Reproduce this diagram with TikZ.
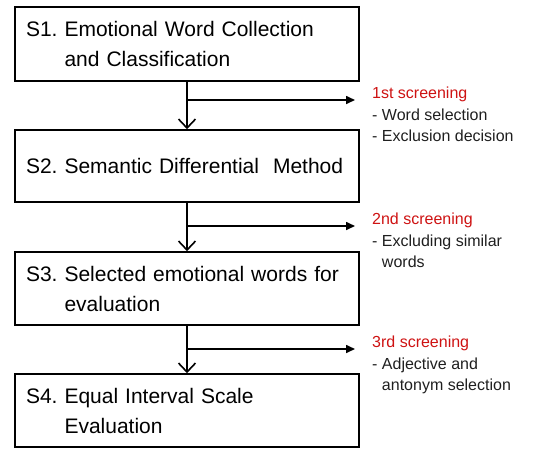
\documentclass[tikz,border=0pt]{standalone}
\usepackage{fontspec}
\setmainfont{Liberation Sans}
\usetikzlibrary{arrows.meta}
\hyphenpenalty=10000
\frenchspacing
\definecolor{scrred}{RGB}{206,18,18}
\tikzset{
  stage/.style={draw, line width=1.6pt, minimum width=344pt, text width=322pt,
    align=left, inner sep=0pt, font=\fontsize{21}{30}\selectfont},
  note/.style={anchor=north west, align=left, inner sep=0pt,
    font=\fontsize{16}{21.5}\selectfont, text=black!88},
  flow/.style={line width=1.6pt, -{Straight Barb[length=9pt,width=17pt,line width=1.6pt]}},
  branch/.style={line width=1.6pt, -{Triangle[length=9pt,width=8pt]}}
}
\begin{document}
\begin{tikzpicture}[x=1pt,y=-1pt]
    \useasboundingbox (0,0) rectangle (549,448);
    \node[stage, minimum height=74pt] (s1) at (187,44) {S1. Emotional Word Collection\\\hphantom{S1. }and Classification};
    \node[stage, minimum height=72pt] (s2) at (187,166) {S2. Semantic Differential\ \ Method};
    \node[stage, minimum height=73pt] (s3) at (187,288.5) {S3. Selected emotional words for\\\hphantom{S3. }evaluation};
    \node[stage, minimum height=73pt] (s4) at (187,410.5) {S4. Equal Interval Scale\\\hphantom{S4. }Evaluation};
    \draw[flow] (s1.south) -- (s2.north);
    \draw[flow] (s2.south) -- (s3.north);
    \draw[flow] (s3.south) -- (s4.north);
    % screening branches
    \coordinate (b1) at (187,100); \coordinate (e1) at (355,100);
    \coordinate (b2) at (187,226); \coordinate (e2) at (355,226);
    \coordinate (b3) at (187,349); \coordinate (e3) at (355,349);
    \draw[branch] (b1) -- (e1);
    \draw[branch] (b2) -- (e2);
    \draw[branch] (b3) -- (e3);
    \node[note] (n1) at (372,87) {\textcolor{scrred}{1st screening}\\- Word selection\\- Exclusion decision};
    \node[note] (n2) at (372,213) {\textcolor{scrred}{2nd screening}\\- Excluding similar\\\hphantom{- }words};
    \node[note] (n3) at (372,336) {\textcolor{scrred}{3rd screening}\\- Adjective and\\\hphantom{- }antonym selection};
\end{tikzpicture}
\end{document}
